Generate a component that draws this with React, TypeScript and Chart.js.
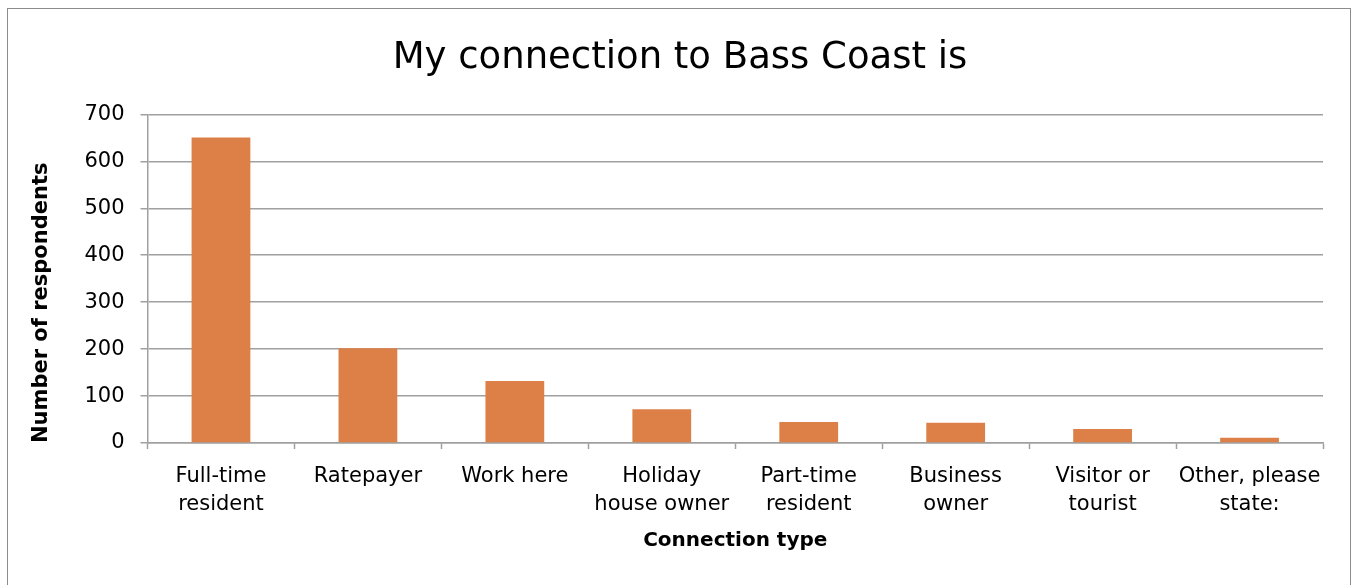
import React, { useEffect, useRef } from "react";
import { Chart, registerables } from "chart.js";

Chart.register(...registerables);

const categories: string[][] = [
  ["Full-time", "resident"],
  ["Ratepayer"],
  ["Work here"],
  ["Holiday", "house owner"],
  ["Part-time", "resident"],
  ["Business", "owner"],
  ["Visitor or", "tourist"],
  ["Other, please", "state:"],
];
const respondents: number[] = [651, 202, 132, 72, 45, 43, 30, 11];
const yMin = 0;
const yMax = 700;
const yStep = 100;
const chartTitle = "My connection to Bass Coast is";
const xTitle = "Connection type";
const yTitle = "Number of respondents";

const FONT = "'DejaVu Sans', sans-serif";
const GRID = "#a0a0a0";

export default function App() {
  const ref = useRef<HTMLCanvasElement | null>(null);

  useEffect(() => {
    if (!ref.current) return;
    const chart = new Chart(ref.current, {
      type: "bar",
      data: {
        labels: categories,
        datasets: [
          {
            data: respondents,
            backgroundColor: "#DD8047",
            borderWidth: 0,
            barPercentage: 0.4,
            categoryPercentage: 1,
          },
        ],
      },
      options: {
        responsive: false,
        animation: false,
        devicePixelRatio: 1,
        layout: { padding: { left: 37, right: 30, top: 0, bottom: 0 } },
        plugins: {
          legend: { display: false },
          tooltip: { enabled: false },
          title: {
            display: true,
            text: chartTitle,
            color: "#000",
            font: { family: FONT, size: 37, weight: "normal", lineHeight: 1.2 },
            padding: { top: 36, bottom: 34 },
          },
        },
        scales: {
          x: {
            grid: {
              display: true,
              drawOnChartArea: false,
              drawTicks: true,
              tickLength: 6,
              tickColor: GRID,
              tickWidth: 1.5,
              offset: true,
            },
            border: { display: true, color: GRID, width: 1.5 },
            ticks: {
              color: "#000",
              font: { family: FONT, size: 21, lineHeight: 1.333 },
              padding: 14,
              maxRotation: 0,
              minRotation: 0,
              autoSkip: false,
            },
            title: {
              display: true,
              text: xTitle,
              color: "#000",
              font: { family: FONT, size: 20, weight: "bold", lineHeight: 1.2 },
              padding: { top: 0, bottom: 32 },
            },
            afterFit: (scale: any) => {
              scale.height = 142;
            },
          },
          y: {
            min: yMin,
            max: yMax,
            ticks: {
              stepSize: yStep,
              color: "#000",
              font: { family: FONT, size: 21, lineHeight: 1.2 },
              padding: 16,
            },
            grid: {
              color: GRID,
              lineWidth: 1.5,
              drawTicks: true,
              tickLength: 7,
              tickColor: GRID,
            },
            border: { display: true, color: GRID, width: 1.5 },
            title: {
              display: true,
              text: yTitle,
              color: "#000",
              align: "start",
              font: { family: FONT, size: 21, weight: "bold", lineHeight: 1.2 },
              padding: { top: -8, bottom: 0 },
            },
            afterFit: (scale: any) => {
              scale.width = 110.5;
            },
          },
        },
      },
    });
    return () => chart.destroy();
  }, []);

  return (
    <div
      style={{
        position: "fixed",
        left: 0,
        top: 0,
        width: 1353,
        height: 585,
        overflow: "hidden",
        background: "#fff",
      }}
    >
      <div
        style={{
          position: "absolute",
          left: 7,
          top: 8,
          width: 1344,
          height: 620,
          border: "1.5px solid #8c8c8c",
          boxSizing: "border-box",
        }}
      />
      <canvas
        ref={ref}
        width={1353}
        height={585}
        style={{ position: "absolute", left: 0, top: 0, width: 1353, height: 585 }}
      />
    </div>
  );
}
